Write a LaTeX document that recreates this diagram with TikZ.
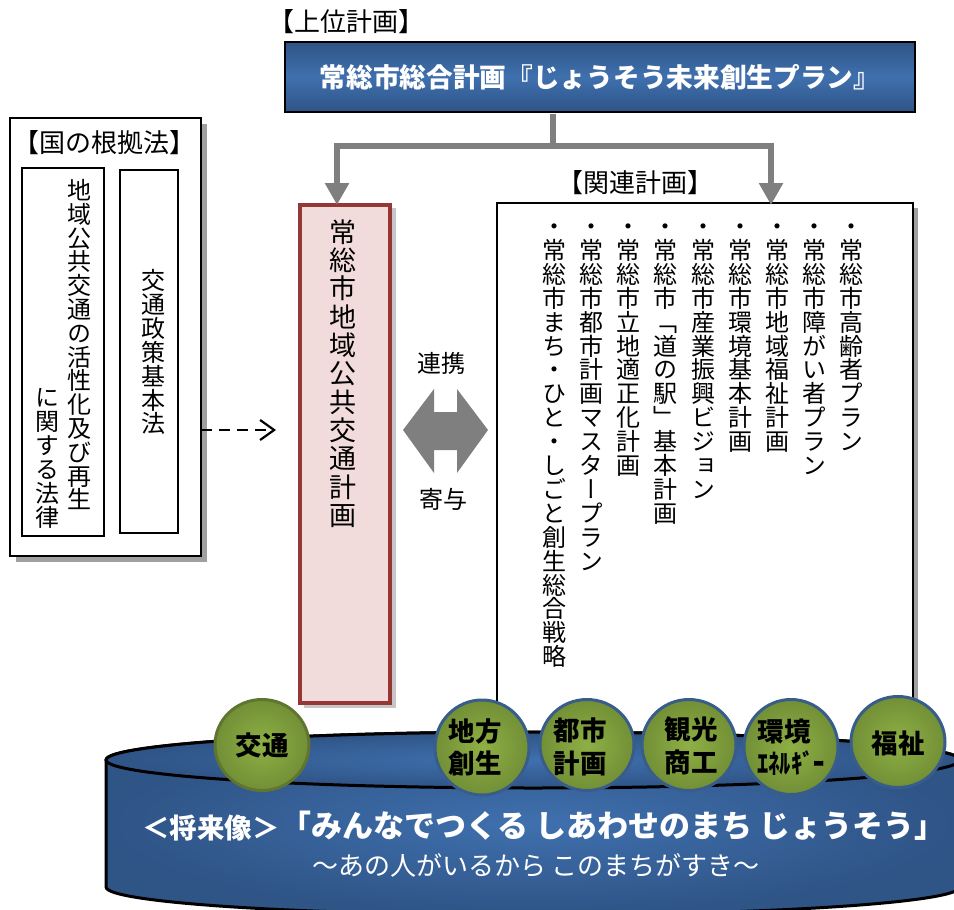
\documentclass[tikz,border=0pt]{standalone}
\usepackage{fontspec}
\usepackage{graphicx}
\usetikzlibrary{arrows.meta,shadings,shapes.geometric}
\setmainfont{Noto Sans CJK JP}
\newfontfamily\vcjk[RawFeature={+vert}]{Noto Sans CJK JP}
\makeatletter
\newlength\vtp
% stacked vertical text: one glyph per line at a fixed pitch
\newcommand\vt[2]{\setlength\vtp{#1}\vbox{\offinterlineskip\vcjk\@tfor\vtc:=#2\do{\hbox to 1em{\vrule height .86\vtp depth .14\vtp width 0pt\smash{\vtc}\hss}}}}
\makeatother
\newcommand\vtaux[2]{\vt{#2}{#1}}
\newcommand\vtm[2]{\expandafter\vtaux\expandafter{#2}{#1}}
\newcommand\fs[1]{\fontsize{#1}{#1}\selectfont}
\definecolor{navyD}{HTML}{2F5486}
\definecolor{navyL}{HTML}{3F70AE}
\definecolor{grayA}{HTML}{7F7F7F}
\definecolor{shad}{HTML}{A0A0A0}
\definecolor{redF}{HTML}{F2DCDB}
\definecolor{redB}{HTML}{953735}
\definecolor{oliveL}{HTML}{8EB044}
\definecolor{oliveD}{HTML}{728F36}
\definecolor{oliveB}{HTML}{5F7530}
\definecolor{blueB}{HTML}{385D8A}
\tikzset{
  base/.style={inner sep=0pt,outer sep=0pt},
  plainbox/.style={base,draw=black,line width=1.8pt,fill=white,anchor=north west},
  shadowbox/.style={base,fill=shad,anchor=north west},
  label24/.style={base,text=black,font=\fs{26}},
  vlabel/.style={base,text=black,anchor=north west},
  feed/.style={draw=grayA,line width=6pt},
  feedhead/.style={draw=grayA,line width=6pt,-{Triangle[width=23pt,length=22pt]}},
  ball/.style={base,ellipse,minimum width=94pt,minimum height=91pt,line width=3pt,inner color=oliveL,outer color=oliveD},
  ballblue/.style={ball,draw=blueB},
  ballolive/.style={ball,draw=oliveB},
  balltext/.style={base,align=center,font=\fs{26.5}\bfseries,text=black},
  drum/.style={line width=3pt,draw=black,inner color=navyL,outer color=navyD},
}
\begin{document}
\begin{tikzpicture}[x=1pt,y=-1pt]
\useasboundingbox (0,0) rectangle (954,910);
\clip (0,0) rectangle (954,910);

% National basis
\node[shadowbox,minimum width=191pt,minimum height=438pt] (lawshadow) at (16,124) {};
\node[plainbox,minimum width=191pt,minimum height=438pt] (law) at (10,118) {};
\node[label24] (lawtitle) at (104,143) {【国の根拠法】};
\node[plainbox,minimum width=82pt,minimum height=368pt] (act1) at (22,168) {};
\node[plainbox,minimum width=58pt,minimum height=363pt] (act2) at (120,170) {};
\node[vlabel,font=\fs{24}] (act1a) at (67,179) {\vt{23.8pt}{地域公共交通の活性化及び再生}};
\node[vlabel,font=\fs{24}] (act1b) at (35,386) {\vt{24pt}{に関する法律}};
\node[vlabel,font=\fs{24}] (act2t) at (141,269) {\vt{23.9pt}{交通政策基本法}};

% Upper plan
\node[label24,anchor=center] (uptitle) at (346,22) {【上位計画】};
\node[base,draw=black,line width=1.5pt,anchor=north west,minimum width=630pt,minimum height=70pt,
  top color=navyD,bottom color=navyD,middle color=navyL,text=white,font=\fs{26.7}\bfseries] (plan) at (285,42) {常総市総合計画『じょうそう未来創生プラン』};

% Related plans box
\node[label24] (reltitle) at (635,183) {【関連計画】};
\node[shadowbox,minimum width=416pt,minimum height=600pt] (relshadow) at (502,208) {};
\node[plainbox,minimum width=416pt,minimum height=600pt] (rel) at (497,203) {};
\foreach \nm/\cx/\txt in {
 r1/851/{・常総市高齢者プラン},
 r2/814/{・常総市障がい者プラン},
 r3/777/{・常総市地域福祉計画},
 r4/740/{・常総市環境基本計画},
 r5/703/{・常総市産業振興ビジョン},
 r6/665/{・常総市「道の駅」基本計画},
 r7/628/{・常総市立地適正化計画},
 r8/591/{・常総市都市計画マスタープラン},
 r9/554/{・常総市まち・ひと・しごと創生総合戦略}}
 {\node[vlabel,font=\fs{24}] (\nm) at (\cx-12,215) {\vtm{23.9pt}{\txt}};}

% Community transport plan
\node[shadowbox,fill=gray!45,minimum width=92pt,minimum height=500pt] (mainshadow) at (304,208) {};
\node[base,draw=redB,line width=4pt,fill=redF,anchor=north west,minimum width=90pt,minimum height=498pt] (main) at (300,205) {};
\node[vlabel,font=\fs{27}] (maintext) at (329.5,218) {\vt{28.3pt}{常総市地域公共交通計画}};

% Feed arrows from the upper plan
\path (plan.south) ++(-47,2) coordinate (stemtop);
\coordinate (junction) at (553,146);
\coordinate (jleft) at (337,146);
\coordinate (jright) at (771,146);
\coordinate (inleft) at (337,205);
\coordinate (inright) at (771,205);
\draw[feed] (stemtop) -- (junction);
\draw[feed,line cap=rect] (jleft) -- (jright);
\draw[feedhead] (jleft) -- (inleft);
\draw[feedhead] (jright) -- (inright);

% Dashed arrow
\coordinate (lawout) at (201,430);
\coordinate (lawend) at (276,430);
\draw[line width=2.2pt,dash pattern=on 11pt off 7pt,-{Straight Barb[length=14pt,width=20pt,line width=2.2pt]}] (lawout) -- (lawend);

% Double arrow
\node[base,font=\fs{24}] (lbl1) at (441,363) {連携};
\node[base,font=\fs{24}] (lbl2) at (443,499) {寄与};
\fill[grayA] (403,430) -- (434,389) -- (434,412) -- (457,412) -- (457,389) -- (488,430) -- (457,473) -- (457,450) -- (434,450) -- (434,473) -- cycle;

% Drum
\path[drum] (106,760) -- (106,887) arc[start angle=180,end angle=0,x radius=427,y radius=28] -- (960,760) arc[start angle=0,end angle=-180,x radius=427,y radius=28] -- cycle;
\path[drum] (533,760) ellipse[x radius=427,y radius=28];

% Theme circles
\node[ballolive] (b1) at (262,745) {};
\node[ballblue,minimum height=95pt] (b2) at (482,747.5) {};
\node[ballblue] (b3) at (587,745) {};
\node[ballblue] (b4) at (689,745) {};
\node[ballblue,minimum height=95pt] (b5) at (791,747) {};
\node[ballblue] (b6) at (898,742) {};
\node[balltext] (t1) at (262,745) {交通};
\node[balltext] (t2) at (475,747.5) {地方\\[6pt]創生};
\node[balltext] (t3) at (580,747) {都市\\[6pt]計画};
\node[balltext] (t4) at (691,746) {観光\\[6pt]商工};
\node[balltext] (t5a) at (784,732) {環境};
\node[balltext] (t5b) at (791,763) {\scalebox{0.85}[1]{ｴﾈﾙｷﾞｰ}};
\node[balltext] (t6) at (898,743) {福祉};

% Vision text
\node[base,text=white,font=\fs{27.5}\bfseries,anchor=west] (v1) at (142,828) {＜将来像＞};
\node[base,text=white,font=\fs{31}\bfseries,anchor=center] (v2) at (613,826) {「みんなでつくる しあわせのまち じょうそう」};
\node[base,text=white,font=\fs{26},anchor=center] (v3) at (536,865) {～あの人がいるから このまちがすき～};
\end{tikzpicture}
\end{document}
